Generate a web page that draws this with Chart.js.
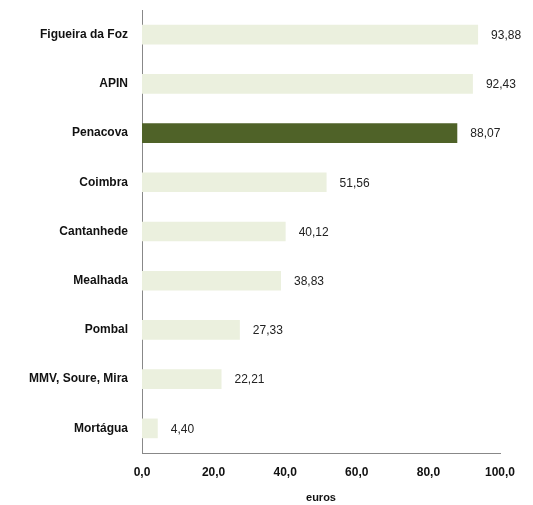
<!DOCTYPE html>
<html>
<head>
<meta charset="utf-8">
<script src="https://cdn.jsdelivr.net/npm/chart.js@4/dist/chart.umd.min.js"></script>
<style>
  html, body { margin: 0; padding: 0; background: #fff; }
  #wrap { width: 533px; height: 505px; }
</style>
</head>
<body>
<div id="wrap"><canvas id="chart"></canvas></div>
<script>
const categories = ['Figueira da Foz', 'APIN', 'Penacova', 'Coimbra', 'Cantanhede', 'Mealhada', 'Pombal', 'MMV, Soure, Mira', 'Mortágua'];
const values = [93.88, 92.43, 88.07, 51.56, 40.12, 38.83, 27.33, 22.21, 4.40];
const highlight = 'Penacova';
const xTicks = [0, 20, 40, 60, 80, 100];

const fmt = (v, d) => v.toFixed(d).replace('.', ',');

// value labels to the right of each bar
const barLabels = {
  id: 'barLabels',
  afterDatasetsDraw(chart) {
    const ctx = chart.ctx;
    const meta = chart.getDatasetMeta(0);
    ctx.save();
    ctx.font = '12px "Liberation Sans", Arial, sans-serif';
    ctx.fillStyle = '#222';
    ctx.textBaseline = 'middle';
    ctx.textAlign = 'left';
    meta.data.forEach((bar, i) => {
      ctx.fillText(fmt(values[i], 2), bar.x + 13, bar.y + 1);
    });
    ctx.restore();
  }
};

new Chart(document.getElementById('chart'), {
  type: 'bar',
  data: {
    labels: categories,
    datasets: [{
      data: values,
      backgroundColor: categories.map(c => c === highlight ? '#4F6228' : '#EBF0DE'),
      barPercentage: 0.8,
      categoryPercentage: 0.5
    }]
  },
  options: {
    indexAxis: 'y',
    responsive: true,
    maintainAspectRatio: false,
    animation: false,
    layout: { padding: { top: 10, right: 33, left: 0, bottom: 0 } },
    plugins: { legend: { display: false }, tooltip: { enabled: false } },
    scales: {
      x: {
        min: 0,
        max: 100,
        afterBuildTicks: axis => { axis.ticks = xTicks.map(v => ({ value: v })); },
        afterFit: axis => { axis.height = 52; },
        grid: { display: false, drawTicks: false },
        border: { color: '#888', width: 1 },
        ticks: {
          padding: 12,
          color: '#111',
          font: { family: '"Liberation Sans", Arial, sans-serif', size: 12, weight: 'bold' },
          callback: v => fmt(v, 1)
        },
        title: {
          display: true,
          text: 'euros',
          color: '#111',
          padding: { top: 4, bottom: 0 },
          font: { family: '"Liberation Sans", Arial, sans-serif', size: 11, weight: 'bold' }
        }
      },
      y: {
        afterFit: axis => {
          axis.width = 142;
          axis.paddingTop = 0;
          axis.paddingBottom = 0;
        },
        grid: { display: false, drawTicks: false },
        border: { color: '#888', width: 1 },
        ticks: {
          padding: 14,
          color: '#111',
          font: { family: '"Liberation Sans", Arial, sans-serif', size: 12, weight: 'bold' }
        }
      }
    }
  },
  plugins: [barLabels]
});
</script>
</body>
</html>
